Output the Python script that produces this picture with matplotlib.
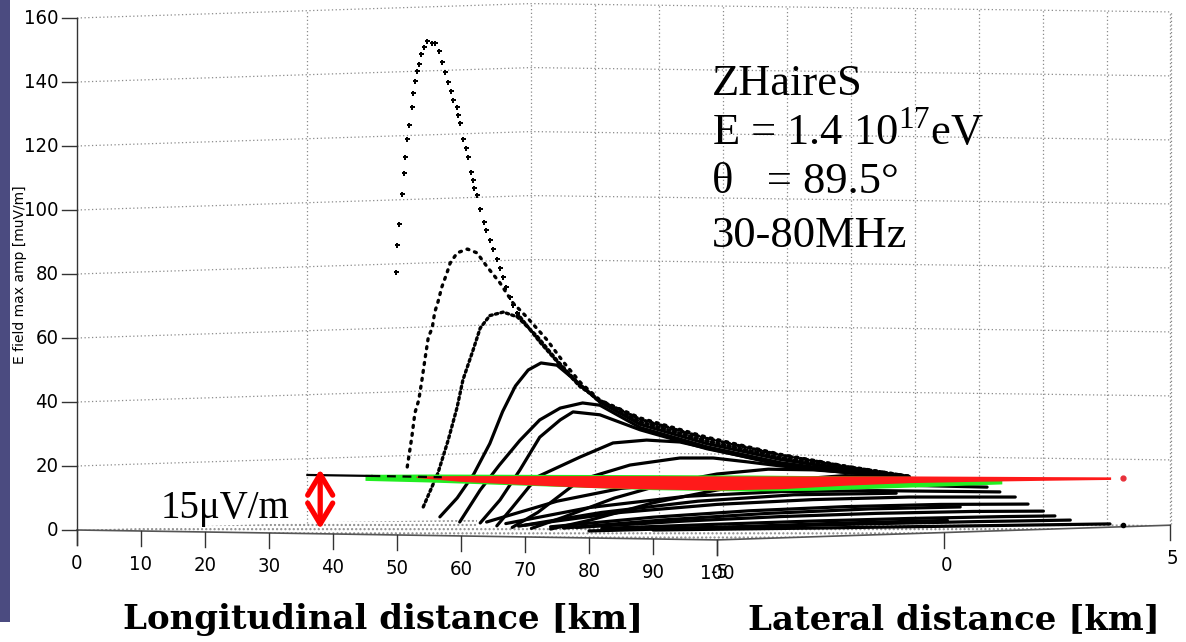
import matplotlib
matplotlib.use("Agg")
import matplotlib.pyplot as plt
from matplotlib.patches import Rectangle

plt.rcParams["mathtext.fontset"] = "custom"
plt.rcParams["mathtext.rm"] = "Liberation Serif"
plt.rcParams["hatch.linewidth"] = 1.0

# axis values
Y_TICKS = [0, 20, 40, 60, 80, 100, 120, 140, 160]
LONG_TICKS = [0, 10, 20, 30, 40, 50, 60, 70, 80, 90, 100]
LAT_TICKS = [-5, 0, 5]

# field profiles, horizontal position in screen km, amplitude in muV/m
# A: sparse samples near the core, then the common tail
A_X = [49.84, 50.0, 50.31, 50.78, 51.09, 51.25, 51.56, 51.88, 52.34, 52.5, 52.81, 53.13,
       53.44, 53.75, 54.22, 54.69, 55.47, 55.94, 56.56, 57.03, 57.5, 57.97, 58.44, 58.75,
       59.38, 59.53, 59.84, 60.31, 60.78, 61.09, 61.56, 61.88, 62.03, 62.5, 62.97, 63.59,
       63.91, 64.53, 65.0, 65.63, 66.09, 66.56, 67.03, 67.66, 68.13, 68.75]
A_Y = [80.63, 89.06, 95.63, 105.0, 111.56, 116.56, 122.19, 126.56, 132.19, 136.56, 140.31,
       143.44, 145.63, 148.75, 150.94, 152.81, 152.19, 152.19, 149.69, 146.25, 143.13, 140.0,
       137.19, 134.38, 132.19, 129.69, 127.19, 122.19, 119.38, 116.56, 111.88, 109.38,
       106.88, 104.69, 100.31, 96.25, 93.75, 90.63, 87.81, 84.69, 81.88, 79.06, 75.94,
       72.81, 70.31, 67.81]
A_TAIL_X = [68.75, 72.3, 75.5, 78.5, 81.7, 88.0, 98.4, 110.0, 120.0, 130.0]
A_TAIL_Y = [67.8, 58.8, 51.5, 45.0, 40.5, 34.6, 28.6, 23.4, 19.9, 16.8]

B_X = [51.6, 52.3, 52.8, 53.4, 53.9, 54.4, 54.9, 55.5, 55.9, 56.4, 57.0, 57.8, 58.3, 59.4,
       61.0, 62.5, 64.1, 66.1, 68.1, 70.3, 73.4, 76.0, 78.7, 81.7, 88.0, 98.4, 110.0,
       120.0, 130.0]
B_Y = [19.7, 28.8, 36.6, 40.6, 46.9, 53.8, 60.3, 63.1, 68.1, 71.25, 75.9, 80.3, 83.4, 86.6,
       87.8, 86.6, 82.2, 77.2, 71.0, 66.5, 59.5, 52.5, 46.0, 40.6, 35.0, 29.0, 23.6,
       20.0, 16.8]

C_X = [54.1, 56.4, 58.0, 59.4, 60.3, 61.9, 63.0, 64.5, 66.6, 68.8, 71.9, 75.0, 78.0, 81.7,
       88.0, 98.4, 110.0, 120.0, 130.0]
C_Y = [7.2, 17.8, 28.1, 38.4, 46.9, 56.3, 63.1, 67.0, 68.1, 66.6, 60.5, 53.0, 46.5, 40.0,
       33.8, 27.8, 22.6, 19.5, 16.7]

D_X = [56.7, 59.4, 62.0, 64.5, 66.5, 68.5, 70.5, 72.5, 75.0, 78.0, 81.7, 88.0, 98.4,
       110.0, 120.0, 130.0]
D_Y = [4.1, 10.0, 17.5, 27.0, 37.0, 45.0, 50.0, 52.2, 51.5, 46.5, 40.0, 33.0, 27.0, 22.0,
       19.0, 16.7]

E_X = [59.8, 63.0, 66.0, 69.2, 72.3, 75.5, 79.0, 81.7, 88.0, 98.4, 110.0, 120.0, 130.0]
E_Y = [2.5, 12.5, 20.3, 28.0, 34.4, 38.1, 39.7, 39.0, 32.0, 26.0, 21.0, 18.4, 16.6]

E2_X = [63.0, 66.1, 69.2, 72.3, 75.5, 77.5, 81.7, 88.0, 98.4, 110.0, 120.0, 130.0]
E2_Y = [2.2, 9.4, 18.75, 29.0, 34.4, 36.9, 36.0, 31.3, 25.4, 20.6, 18.2, 16.6]

F_X = [65.6, 68.0, 71.9, 78.6, 83.75, 89.0, 94.2, 98.4, 110.0, 120.0, 130.0]
F_Y = [1.3, 7.0, 16.6, 22.8, 27.2, 28.1, 27.5, 25.6, 20.3, 18.1, 16.6]

G_X = [68.0, 72.0, 78.6, 86.4, 94.2, 99.4, 104.7, 110.0, 120.0, 130.0]
G_Y = [0.8, 5.5, 15.6, 20.3, 22.5, 22.5, 21.3, 20.0, 18.0, 16.6]

H_X = [71.0, 76.0, 84.0, 92.0, 100.0, 108.0, 115.0, 122.0, 130.0]
H_Y = [0.5, 4.0, 10.0, 14.5, 17.5, 19.0, 18.8, 17.8, 16.6]

I_X = [74.0, 80.0, 90.0, 100.0, 110.0, 120.0, 130.0]
I_Y = [0.3, 3.0, 8.5, 12.5, 15.5, 17.0, 16.6]

# low profiles fanning out towards the lateral edge
L1_X = [64.0, 75.0, 85.0, 95.0, 110.0, 125.0, 142.2]
L1_Y = [2.5, 9.0, 13.0, 14.8, 15.0, 14.2, 13.4]
L2_X = [67.0, 80.0, 95.0, 110.0, 125.0, 144.2]
L2_Y = [2.0, 7.0, 10.5, 12.0, 12.3, 11.9]
L3_X = [70.0, 85.0, 100.0, 115.0, 130.0, 146.6]
L3_Y = [1.5, 5.5, 8.0, 9.5, 10.3, 10.3]
L4_X = [74.0, 90.0, 105.0, 120.0, 135.0, 148.6]
L4_Y = [1.0, 4.0, 6.0, 7.3, 8.0, 8.1]
L5_X = [78.0, 95.0, 110.0, 125.0, 140.0, 151.0]
L5_Y = [0.8, 2.8, 4.2, 5.2, 5.8, 5.9]
L6_X = [82.0, 100.0, 115.0, 130.0, 145.0, 152.8]
L6_Y = [0.5, 1.8, 2.8, 3.6, 4.2, 4.4]
L7_X = [86.0, 105.0, 125.0, 140.0, 155.2]
L7_Y = [0.3, 1.0, 2.0, 2.6, 3.1]
L8_X = [90.0, 115.0, 140.0, 161.4]
L8_Y = [0.0, 0.6, 1.3, 1.9]
L9_X = [69.0, 82.0, 97.0, 112.0, 128.0]
L9_Y = [1.2, 5.5, 9.0, 11.0, 11.5]
L10_X = [76.0, 92.0, 108.0, 124.0, 138.0]
L10_Y = [0.6, 3.2, 5.2, 6.6, 7.2]
L11_X = [80.0, 100.0, 120.0, 136.0]
L11_Y = [-0.3, 0.8, 2.2, 3.0]

# detection threshold bands
GREEN_X = [45.0, 55.0, 70.0, 90.0, 105.0, 115.0, 130.0, 144.5]
GREEN_HI = [17.4, 17.5, 17.4, 17.3, 17.2, 17.0, 16.8, 15.8]
GREEN_LO = [15.5, 15.0, 14.0, 12.6, 12.2, 12.4, 13.4, 14.4]
RED_X = [53.0, 60.0, 70.0, 80.0, 90.0, 100.0, 110.0, 120.0, 130.0, 140.0, 150.0, 161.5]
RED_HI = [16.9, 17.0, 17.0, 17.0, 17.0, 16.9, 16.9, 16.9, 16.9, 16.8, 16.7, 16.6]
RED_LO = [16.4, 15.2, 14.2, 13.3, 12.8, 12.5, 12.9, 14.0, 14.8, 15.2, 15.5, 15.8]
NOISE_X = [36.0, 46.0, 57.0]
NOISE_Y = [17.2, 16.9, 16.5]

# projected box geometry
LONG_DROP = -0.031
LAT_X0, LAT_STEP = 100.0, 7.08
LAT_Y0, LAT_RISE = -3.1, 0.46
WALL_X, WALL_END = 71.0, 171.0


def long_base(x):
    return LONG_DROP * x


def lat_point(l):
    return LAT_X0 + (l + 5) * LAT_STEP, LAT_Y0 + (l + 5) * LAT_RISE


def wall_offset(x):
    if x <= WALL_X:
        return 4.5 * x / WALL_X
    return 4.5 - 2.6 * (x - WALL_X) / (WALL_END - WALL_X)


fig = plt.figure(figsize=(11.86, 6.42), dpi=100)
ax = fig.add_axes([0, 0, 1, 1])
ax.set_xlim(-12.03, 173.28)
ax.set_ylim(-35.0, 165.625)
ax.axis("off")

# slide border strip
fig.patches.append(Rectangle((0, 20 / 642), 10 / 1186, 622 / 642, transform=fig.transFigure,
                             facecolor="#4b4b80", edgecolor="none"))

# dotted grid on the walls
grid_kw = dict(color="#8a8a8a", lw=0.9, ls=(0, (1, 2)), zorder=1)
for v in Y_TICKS[1:]:
    ax.plot([0, WALL_X, WALL_END], [v, v + 4.5, v + 1.9], **grid_kw)
for gx in [36.0] + [WALL_X + 10 * k for k in range(11)]:
    y0 = wall_offset(gx)
    ax.plot([gx, gx], [y0, y0 + 160], **grid_kw)

# stippled floor
lat_end = lat_point(5)
floor_x = [3, 40, 62.5, 62.5, 160, lat_end[0], LAT_X0, 0]
floor_y = [0.2, 2.5, 3.2, 1.2, 1.8, lat_end[1], long_base(LAT_X0), 0]
ax.fill(floor_x, floor_y, facecolor="none", edgecolor="#8c8c8c", hatch="....", lw=0, zorder=1)

# axes lines and ticks
tick_kw = dict(fontsize=14.5, family="DejaVu Sans", fontstretch="condensed")
ax.plot([0, LAT_X0, lat_end[0]], [0, long_base(LAT_X0), lat_end[1]], color="#555555", lw=1.2, zorder=2)
ax.plot([0, 0], [-4.7, 160], color="#333333", lw=1.0, zorder=2)
for v in Y_TICKS:
    ax.plot([-2.34, 0], [v, v], color="#333333", lw=1.0)
    ax.text(-2.9, v, str(v), ha="right", va="center", **tick_kw)
for t in LONG_TICKS:
    yb = long_base(t)
    ax.plot([t, t], [yb, yb - 4.7], color="#333333", lw=1.0)
    ax.text(t, yb - 10.6, str(t), ha="center", va="center", **tick_kw)
for l in LAT_TICKS:
    lx, ly = lat_point(l)
    ax.plot([lx, lx], [ly, ly - 4.7], color="#333333", lw=1.0)
    ax.text(lx + 0.4, ly - 10.3, str(l), ha="center", va="center", **tick_kw)
ax.plot([lat_end[0]] * 2, [lat_end[1], lat_end[1] + 160], **grid_kw)

ax.text(-8.9, 79.7, "E field max amp [muV/m]", rotation=90, ha="center", va="center", fontsize=10)

# field profiles
ax.plot(A_X, A_Y, ls="none", marker="P", ms=3.6, color="black", mew=0, zorder=4)
ax.plot(A_TAIL_X, A_TAIL_Y, color="black", lw=2.4, ls=(0, (0.7, 0.9)), dash_capstyle="round", zorder=4)
ax.plot(B_X, B_Y, color="black", lw=2.4, ls=(0, (0.6, 1.8)), dash_capstyle="round", zorder=4)
ax.plot(C_X, C_Y, color="black", lw=2.4, ls=(0, (0.7, 1.0)), dash_capstyle="round", zorder=4)
for xs, ys in [(D_X, D_Y), (E_X, E_Y), (E2_X, E2_Y), (F_X, F_Y), (G_X, G_Y), (H_X, H_Y), (I_X, I_Y)]:
    ax.plot(xs, ys, color="black", lw=2.3, solid_capstyle="round", zorder=4)
for xs, ys in [(L1_X, L1_Y), (L2_X, L2_Y), (L3_X, L3_Y), (L4_X, L4_Y), (L5_X, L5_Y),
               (L6_X, L6_Y), (L7_X, L7_Y), (L8_X, L8_Y), (L9_X, L9_Y), (L10_X, L10_Y),
               (L11_X, L11_Y)]:
    ax.plot(xs, ys, color="black", lw=2.3, solid_capstyle="round", zorder=3)
ax.plot([L8_X[-1] + 2.0], [L8_Y[-1] - 0.3], "o", color="black", ms=3, zorder=3)

# threshold bands
ax.fill_between(GREEN_X, GREEN_LO, GREEN_HI, color="#22ee22", lw=0, zorder=5)
ax.fill_between(RED_X, RED_LO, RED_HI, color="#ff1a1a", lw=0, zorder=6)
ax.plot([RED_X[-1] + 2.0], [16.2], "o", color="#e8303a", ms=3.5, zorder=6)
ax.plot(NOISE_X[:2], NOISE_Y[:2], color="black", lw=1.6, zorder=7)
ax.plot(NOISE_X[1:], NOISE_Y[1:], color="black", lw=1.6, ls=(0, (4, 3)), zorder=7)

# 15 muV/m marker
ax.annotate("", xy=(38.0, 0.3), xytext=(38.0, 19.0),
            arrowprops=dict(arrowstyle="<->,head_length=0.75,head_width=0.45", lw=3.8,
                            color="red", mutation_scale=20, shrinkA=0, shrinkB=0), zorder=8)
ax.text(13.0, 3.75, "15μV/m", ha="left", va="baseline", fontsize=28, family="Liberation Serif")

# simulation settings
info_kw = dict(ha="left", va="baseline", fontsize=32, family="Liberation Serif")
ax.text(99.2, 135.9, "ZHaireS", **info_kw)
ax.text(99.2, 120.3, r"E = 1.4 10$^{\mathrm{17}}$eV", **info_kw)
ax.text(99.2, 105.3, "θ   = 89.5°", **info_kw)
ax.text(99.2, 88.4, "30-80MHz", **info_kw)

label_kw = dict(ha="center", va="center", fontsize=24.5, fontweight="bold", family="DejaVu Serif")
ax.text(47.8, -28.1, "Longitudinal distance [km]", **label_kw)
ax.text(137.0, -28.1, "Lateral distance [km]", **label_kw)

fig.savefig("out.png", dpi=100)
